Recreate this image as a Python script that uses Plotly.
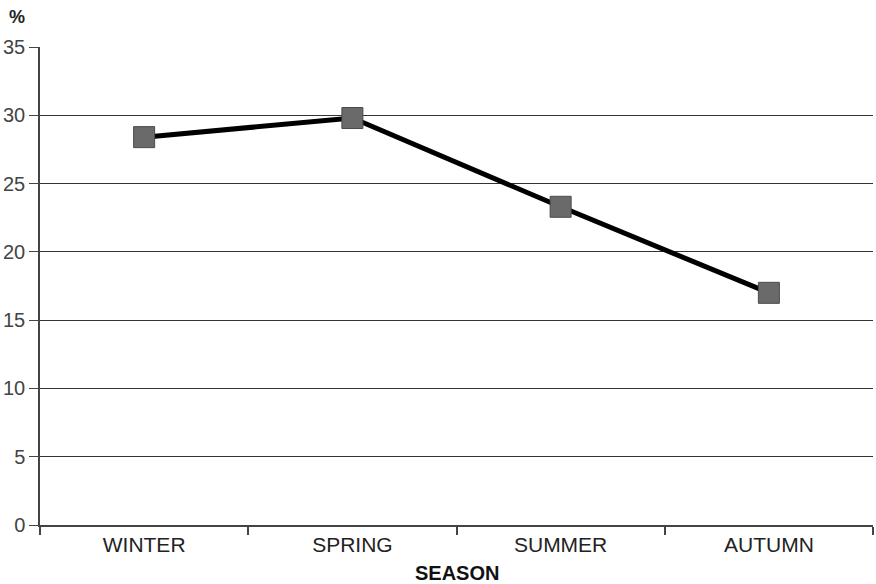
import plotly.graph_objects as go

seasons = ["WINTER", "SPRING", "SUMMER", "AUTUMN"]
percent = [28.4, 29.8, 23.3, 17.0]
y_ticks = [0, 5, 10, 15, 20, 25, 30, 35]

FONT = "Liberation Sans, Arial, sans-serif"

fig = go.Figure()
fig.add_trace(go.Scatter(
    x=seasons, y=percent, mode="lines+markers",
    line=dict(color="#000", width=5),
    marker=dict(symbol="square", size=21, color="#6a6a6a",
                line=dict(color="#4a4a4a", width=1)),
    hoverinfo="x+y",
))

# "%" unit label above the y axis
fig.add_annotation(text="<b>%</b>", xref="paper", yref="paper",
                   x=-0.028, y=1.063, xanchor="center", yanchor="middle",
                   showarrow=False, font=dict(family=FONT, size=18, color="#222"))
# axis title, placed by hand under the tick labels
fig.add_annotation(text="<b>SEASON</b>", xref="paper", yref="paper",
                   x=0.5, y=-0.1, xanchor="center", yanchor="middle",
                   showarrow=False, font=dict(family=FONT, size=20, color="#111"))

fig.update_layout(
    width=876, height=584, showlegend=False,
    paper_bgcolor="white", plot_bgcolor="white",
    margin=dict(l=40, r=3, t=47, b=59),
    font=dict(family=FONT, color="#333"),
    xaxis=dict(
        type="category", range=[-0.5, 3.5], tickson="boundaries",
        ticks="outside", ticklen=8, tickcolor="#444", tickwidth=1.5,
        showgrid=False, showline=True, linecolor="#444", linewidth=1.5,
        tickfont=dict(size=21, color="#222"), automargin=False,
    ),
    yaxis=dict(
        range=[0, 35], tickvals=y_ticks, ticks="outside", ticklen=9,
        tickcolor="#444", showgrid=True, gridcolor="#333", gridwidth=1,
        showline=True, linecolor="#444", linewidth=1.5, zeroline=False,
        tickfont=dict(size=20, color="#444"), automargin=False,
    ),
)

# drop the browser's default 8px body margin so the figure fills the window
fig.write_html("out.html", config={"displayModeBar": False},
               post_script="document.body.style.margin = '0';")
